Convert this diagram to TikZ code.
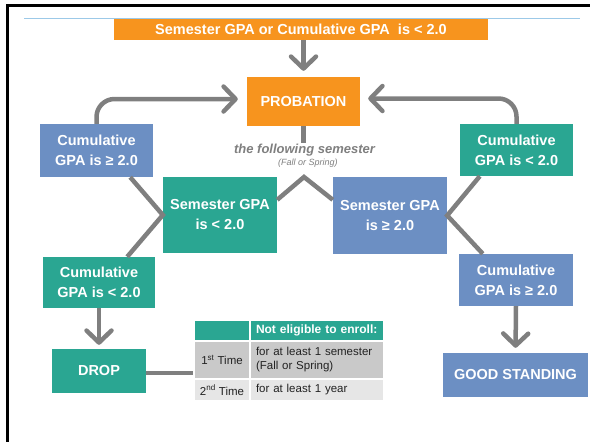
\documentclass[tikz,border=0pt]{standalone}
\usepackage{fontspec}
\setmainfont{Liberation Sans}
\usetikzlibrary{arrows.meta,calc}
\definecolor{orng}{HTML}{F7941E}
\definecolor{tealc}{HTML}{2AA692}
\definecolor{blu}{HTML}{6C8FC3}
\definecolor{arrgray}{HTML}{7F7F7F}
\definecolor{rowa}{HTML}{C9C9C9}
\definecolor{rowb}{HTML}{E6E6E6}
\definecolor{lineblue}{HTML}{9CC9E8}
\definecolor{txtdark}{HTML}{222222}
\tikzset{
  gbox/.style={rectangle, inner sep=0pt, text=white, align=center,
    font=\fontsize{14.5}{20}\selectfont\bfseries},
  conn/.style={draw=arrgray, line width=4.5pt},
  arr/.style={conn, -{Straight Barb[length=12pt,width=25pt,round]}},
  cell/.style={rectangle, draw=white, line width=1.3pt, inner sep=0pt,
    text=txtdark, font=\fontsize{11.5}{14}\selectfont},
}
\begin{document}
\begin{tikzpicture}[x=1pt,y=-1pt]
\useasboundingbox (0,0) rectangle (590,442);
% frame and rule
\draw[black, line width=2.2pt] (7.5,442) -- (7.5,5.5) -- (590,5.5);
\draw[lineblue, line width=1pt] (24,18) -- (580,18);

% boxes
\node[gbox, fill=orng, minimum width=374pt, minimum height=21pt] (banner) at (301,29.5)
  {Semester GPA or Cumulative GPA\ \ is < 2.0};
\node[gbox, fill=orng, minimum width=113pt, minimum height=49pt] (prob) at (303.5,101.5) {PROBATION};
\node[gbox, fill=blu, minimum width=113pt, minimum height=53pt] (cumL) at (96.5,150.5) {Cumulative\\GPA is ≥ 2.0};
\node[gbox, fill=tealc, minimum width=113pt, minimum height=52pt] (cumR) at (516.5,150) {Cumulative\\GPA is < 2.0};
\node[gbox, fill=tealc, minimum width=114pt, minimum height=76pt] (semL) at (220,215) {Semester GPA\\is < 2.0};
\node[gbox, fill=blu, minimum width=114pt, minimum height=77pt] (semR) at (390,215.5) {Semester GPA\\is ≥ 2.0};
\node[gbox, fill=tealc, minimum width=112pt, minimum height=51pt] (cumL2) at (99,282.5) {Cumulative\\GPA is < 2.0};
\node[gbox, fill=blu, minimum width=114pt, minimum height=52pt] (cumR2) at (516,280) {Cumulative\\GPA is ≥ 2.0};
\node[gbox, fill=tealc, minimum width=94pt, minimum height=44pt] (drop) at (99,371) {DROP};
\node[gbox, fill=blu, minimum width=145pt, minimum height=44pt] (good) at (515.5,375) {GOOD STANDING};

% text
\node[text=arrgray, font=\fontsize{13}{15}\selectfont\bfseries\itshape, inner sep=1pt] (follow) at (304.5,150.5) {the following semester};
\node[text=arrgray, font=\fontsize{9}{11}\selectfont\itshape, inner sep=0pt] (fall) at (308,163) {(Fall or Spring)};

% table
\node[cell, fill=tealc, minimum width=56pt, minimum height=21pt] (th1) at (222,330.5) {};
\node[cell, fill=tealc, minimum width=134pt, minimum height=21pt, text width=122pt, inner xsep=6pt, align=left,
  text=white, font=\fontsize{12}{14}\selectfont\bfseries] (th2) at (317,330.5) {Not eligible to enroll:};
\node[cell, fill=rowa, minimum width=56pt, minimum height=38pt, align=center] (r1a) at (222,360) {1\textsuperscript{st} Time};
\node[cell, fill=rowa, minimum width=134pt, minimum height=38pt, text width=122pt, inner xsep=6pt, align=left] (r1b) at (317,360)
  {for at least 1 semester\\(Fall or Spring)};
\node[cell, fill=rowb, minimum width=56pt, minimum height=22pt, align=center] (r2a) at (222,390) {2\textsuperscript{nd} Time};
\node[cell, fill=rowb, minimum width=134pt, minimum height=22pt, text width=122pt, inner xsep=6pt, align=left] (r2b) at (317,390)
  {for at least 1 year};

% connectors
\draw[arr, shorten >=6pt] (prob.north |- banner.south) -- (prob.north);
\draw[arr, shorten >=9pt, rounded corners=18pt] (cumL.north) |- ($(prob.west)+(0,-2.5)$);
\draw[arr, shorten >=8pt, rounded corners=18pt] (cumR.north) |- ($(prob.east)+(0,-3)$);
\draw[conn] (prob.south) -- (prob.south |- follow.north);
\coordinate (apex) at (304,177);
\draw[conn] ($(semL.north east)+(0,23)$) -- (apex) -- ($(semR.north west)+(0,23)$);
\draw[conn] ($(cumL.south east)+(-23,0)$) -- (semL.west) -- ($(cumL2.north east)+(-28,0)$);
\draw[conn] ($(cumR.south west)+(20,0)$) -- (semR.east) -- ($(cumR2.north west)+(24,0)$);
\draw[arr, shorten >=4pt] (cumL2.south) -- (drop.north);
\draw[arr, shorten >=5pt] (cumR2.south) -- (good.north);
\draw[conn] ($(drop.east)+(0,2)$) -- ($(drop.east -| r1a.west)+(0,2)$);
\end{tikzpicture}
\end{document}
